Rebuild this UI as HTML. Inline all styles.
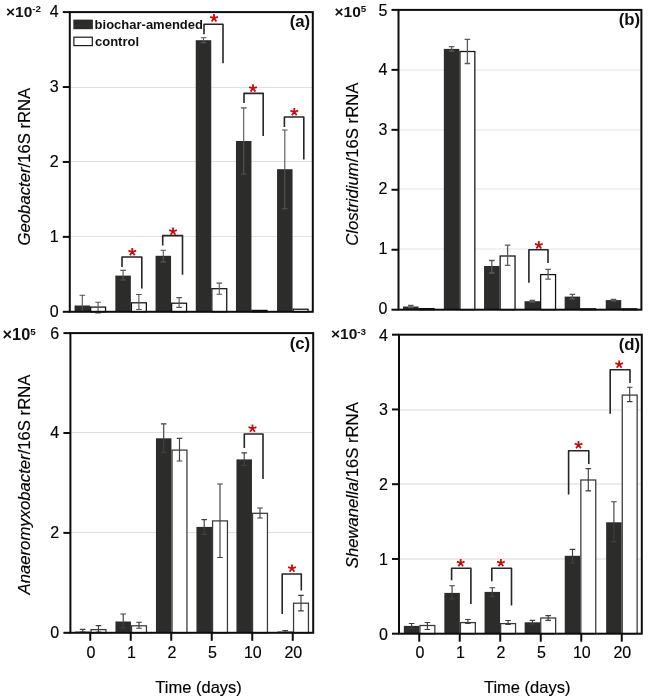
<!DOCTYPE html><html><head><meta charset="utf-8"><style>html,body{margin:0;padding:0;background:#fff;}svg{display:block;will-change:transform}text{font-family:'Liberation Sans',sans-serif}</style></head><body>
<svg width="657" height="699" viewBox="0 0 657 699">
<rect x="0" y="0" width="657" height="699" fill="#fff"/>
<line x1="70.8" y1="236.50" x2="311.8" y2="236.50" stroke="#e0e0e0" stroke-width="1"/>
<line x1="70.8" y1="161.50" x2="311.8" y2="161.50" stroke="#e0e0e0" stroke-width="1"/>
<line x1="70.8" y1="87.50" x2="311.8" y2="87.50" stroke="#e0e0e0" stroke-width="1"/>
<rect x="74.55" y="305.50" width="15.5" height="6.30" fill="#2c2c2a"/>
<rect x="90.65" y="307.10" width="14.90" height="4.70" fill="#fff" stroke="#111111" stroke-width="1.25"/>
<path d="M82.30,295.20V311.50M79.50,295.20H85.10M79.50,311.50H85.10" stroke="#555555" stroke-width="1.1" fill="none"/>
<path d="M98.10,302.30V313.00M95.30,302.30H100.90M95.30,313.00H100.90" stroke="#555555" stroke-width="1.1" fill="none"/>
<rect x="115.35" y="275.60" width="15.5" height="36.20" fill="#2c2c2a"/>
<rect x="131.45" y="302.80" width="14.90" height="9.00" fill="#fff" stroke="#111111" stroke-width="1.25"/>
<path d="M123.10,270.40V280.00M120.30,270.40H125.90M120.30,280.00H125.90" stroke="#555555" stroke-width="1.1" fill="none"/>
<path d="M138.90,294.50V309.50M136.10,294.50H141.70M136.10,309.50H141.70" stroke="#555555" stroke-width="1.1" fill="none"/>
<rect x="155.55" y="255.80" width="15.5" height="56.00" fill="#2c2c2a"/>
<rect x="171.65" y="303.20" width="14.90" height="8.60" fill="#fff" stroke="#111111" stroke-width="1.25"/>
<path d="M163.30,250.20V261.90M160.50,250.20H166.10M160.50,261.90H166.10" stroke="#555555" stroke-width="1.1" fill="none"/>
<path d="M179.10,297.60V307.40M176.30,297.60H181.90M176.30,307.40H181.90" stroke="#555555" stroke-width="1.1" fill="none"/>
<rect x="195.75" y="40.20" width="15.5" height="271.60" fill="#2c2c2a"/>
<rect x="211.85" y="288.70" width="14.90" height="23.10" fill="#fff" stroke="#111111" stroke-width="1.25"/>
<path d="M203.50,37.80V42.60M200.70,37.80H206.30M200.70,42.60H206.30" stroke="#555555" stroke-width="1.1" fill="none"/>
<path d="M219.30,283.10V294.20M216.50,283.10H222.10M216.50,294.20H222.10" stroke="#555555" stroke-width="1.1" fill="none"/>
<rect x="235.95" y="141.00" width="15.5" height="170.80" fill="#2c2c2a"/>
<rect x="252.05" y="310.40" width="14.90" height="1.40" fill="#fff" stroke="#111111" stroke-width="1.25"/>
<path d="M243.70,107.90V174.00M240.90,107.90H246.50M240.90,174.00H246.50" stroke="#555555" stroke-width="1.1" fill="none"/>
<rect x="277.05" y="169.20" width="15.5" height="142.60" fill="#2c2c2a"/>
<rect x="293.15" y="309.20" width="14.90" height="2.60" fill="#fff" stroke="#111111" stroke-width="1.25"/>
<path d="M284.80,130.00V208.70M282.00,130.00H287.60M282.00,208.70H287.60" stroke="#555555" stroke-width="1.1" fill="none"/>
<path d="M122.0,267.0V257.0H141.8V288.5" stroke="#262626" stroke-width="1.6" fill="none" stroke-linejoin="round"/>
<path d="M132.30,252.00L132.30,247.90M132.30,252.00L136.20,250.73M132.30,252.00L134.71,255.32M132.30,252.00L129.89,255.32M132.30,252.00L128.40,250.73" stroke="#cc0a0a" stroke-width="1.8" stroke-linecap="butt" fill="none"/>
<path d="M162.7,245.5V235.6H182.5V274.7" stroke="#262626" stroke-width="1.6" fill="none" stroke-linejoin="round"/>
<path d="M173.00,231.50L173.00,227.40M173.00,231.50L176.90,230.23M173.00,231.50L175.41,234.82M173.00,231.50L170.59,234.82M173.00,231.50L169.10,230.23" stroke="#cc0a0a" stroke-width="1.8" stroke-linecap="butt" fill="none"/>
<path d="M204.0,34.3V24.2H223.0V63.3" stroke="#262626" stroke-width="1.6" fill="none" stroke-linejoin="round"/>
<path d="M214.00,18.20L214.00,14.10M214.00,18.20L217.90,16.93M214.00,18.20L216.41,21.52M214.00,18.20L211.59,21.52M214.00,18.20L210.10,16.93" stroke="#cc0a0a" stroke-width="1.8" stroke-linecap="butt" fill="none"/>
<path d="M244.0,103.0V93.4H263.2V136.0" stroke="#262626" stroke-width="1.6" fill="none" stroke-linejoin="round"/>
<path d="M253.00,88.30L253.00,84.20M253.00,88.30L256.90,87.03M253.00,88.30L255.41,91.62M253.00,88.30L250.59,91.62M253.00,88.30L249.10,87.03" stroke="#cc0a0a" stroke-width="1.8" stroke-linecap="butt" fill="none"/>
<path d="M284.4,127.0V117.0H303.8V159.4" stroke="#262626" stroke-width="1.6" fill="none" stroke-linejoin="round"/>
<path d="M294.30,112.00L294.30,107.90M294.30,112.00L298.20,110.73M294.30,112.00L296.71,115.32M294.30,112.00L291.89,115.32M294.30,112.00L290.40,110.73" stroke="#cc0a0a" stroke-width="1.8" stroke-linecap="butt" fill="none"/>
<rect x="69.80" y="12.10" width="243.00" height="299.70" fill="none" stroke="#0d0d0d" stroke-width="2"/>
<line x1="62.8" y1="311.80" x2="69.8" y2="311.80" stroke="#0d0d0d" stroke-width="2"/>
<text x="58.60" y="316.50" font-size="16" text-anchor="end" fill="#000" stroke="#000" stroke-width="0.15">0</text>
<line x1="62.8" y1="236.88" x2="69.8" y2="236.88" stroke="#0d0d0d" stroke-width="2"/>
<text x="58.60" y="241.57" font-size="16" text-anchor="end" fill="#000" stroke="#000" stroke-width="0.15">1</text>
<line x1="62.8" y1="161.95" x2="69.8" y2="161.95" stroke="#0d0d0d" stroke-width="2"/>
<text x="58.60" y="166.65" font-size="16" text-anchor="end" fill="#000" stroke="#000" stroke-width="0.15">2</text>
<line x1="62.8" y1="87.03" x2="69.8" y2="87.03" stroke="#0d0d0d" stroke-width="2"/>
<text x="58.60" y="91.73" font-size="16" text-anchor="end" fill="#000" stroke="#000" stroke-width="0.15">3</text>
<line x1="62.8" y1="12.10" x2="69.8" y2="12.10" stroke="#0d0d0d" stroke-width="2"/>
<text x="58.60" y="16.80" font-size="16" text-anchor="end" fill="#000" stroke="#000" stroke-width="0.15">4</text>
<text transform="translate(29.5,166.6) rotate(-90)" font-size="16.7" text-anchor="middle" fill="#000" stroke="#000" stroke-width="0.15"><tspan font-style="italic">Geobacter</tspan>/16S rRNA</text>
<text x="6.0" y="17.0" font-size="15.5" font-weight="bold" fill="#111">×10<tspan font-size="9.8" dy="-4.6">-2</tspan></text>
<text x="310.2" y="26.8" font-size="16.8" font-weight="bold" text-anchor="end" fill="#111">(a)</text>
<line x1="399.5" y1="249.00" x2="640.4" y2="249.00" stroke="#f2f2f2" stroke-width="2"/>
<line x1="399.5" y1="189.00" x2="640.4" y2="189.00" stroke="#f2f2f2" stroke-width="2"/>
<line x1="399.5" y1="130.00" x2="640.4" y2="130.00" stroke="#f2f2f2" stroke-width="2"/>
<line x1="399.5" y1="70.00" x2="640.4" y2="70.00" stroke="#f2f2f2" stroke-width="2"/>
<rect x="403.05" y="306.50" width="15.5" height="3.20" fill="#2c2c2a"/>
<rect x="419.15" y="308.60" width="14.90" height="1.10" fill="#fff" stroke="#111111" stroke-width="1.25"/>
<path d="M410.80,305.50V307.50M408.00,305.50H413.60M408.00,307.50H413.60" stroke="#5a5a5a" stroke-width="1.3" fill="none"/>
<rect x="443.85" y="48.90" width="15.5" height="260.80" fill="#2c2c2a"/>
<rect x="459.95" y="51.50" width="14.90" height="258.20" fill="#fff" stroke="#111111" stroke-width="1.25"/>
<path d="M451.60,46.60V51.20M448.80,46.60H454.40M448.80,51.20H454.40" stroke="#5a5a5a" stroke-width="1.3" fill="none"/>
<path d="M467.40,39.40V63.50M464.60,39.40H470.20M464.60,63.50H470.20" stroke="#5a5a5a" stroke-width="1.3" fill="none"/>
<rect x="484.05" y="266.00" width="15.5" height="43.70" fill="#2c2c2a"/>
<rect x="500.15" y="256.00" width="14.90" height="53.70" fill="#fff" stroke="#111111" stroke-width="1.25"/>
<path d="M491.80,260.50V273.00M489.00,260.50H494.60M489.00,273.00H494.60" stroke="#5a5a5a" stroke-width="1.3" fill="none"/>
<path d="M507.60,245.20V265.30M504.80,245.20H510.40M504.80,265.30H510.40" stroke="#5a5a5a" stroke-width="1.3" fill="none"/>
<rect x="524.55" y="301.20" width="15.5" height="8.50" fill="#2c2c2a"/>
<rect x="540.65" y="274.60" width="14.90" height="35.10" fill="#fff" stroke="#111111" stroke-width="1.25"/>
<path d="M532.30,300.50V302.00M529.50,300.50H535.10M529.50,302.00H535.10" stroke="#5a5a5a" stroke-width="1.3" fill="none"/>
<path d="M548.10,269.30V279.20M545.30,269.30H550.90M545.30,279.20H550.90" stroke="#5a5a5a" stroke-width="1.3" fill="none"/>
<rect x="564.65" y="296.60" width="15.5" height="13.10" fill="#2c2c2a"/>
<rect x="580.75" y="308.80" width="14.90" height="0.90" fill="#fff" stroke="#111111" stroke-width="1.25"/>
<path d="M572.40,294.40V298.80M569.60,294.40H575.20M569.60,298.80H575.20" stroke="#5a5a5a" stroke-width="1.3" fill="none"/>
<rect x="605.75" y="300.10" width="15.5" height="9.60" fill="#2c2c2a"/>
<rect x="621.85" y="308.80" width="14.90" height="0.90" fill="#fff" stroke="#111111" stroke-width="1.25"/>
<path d="M613.50,299.30V300.90M610.70,299.30H616.30M610.70,300.90H616.30" stroke="#5a5a5a" stroke-width="1.3" fill="none"/>
<path d="M528.9,282.7V249.8H548.0V263.1" stroke="#262626" stroke-width="1.6" fill="none" stroke-linejoin="round"/>
<path d="M538.80,245.10L538.80,241.00M538.80,245.10L542.70,243.83M538.80,245.10L541.21,248.42M538.80,245.10L536.39,248.42M538.80,245.10L534.90,243.83" stroke="#cc0a0a" stroke-width="1.8" stroke-linecap="butt" fill="none"/>
<rect x="398.50" y="9.90" width="242.90" height="299.80" fill="none" stroke="#0d0d0d" stroke-width="2"/>
<line x1="391.5" y1="309.70" x2="398.5" y2="309.70" stroke="#0d0d0d" stroke-width="2"/>
<text x="387.30" y="314.40" font-size="16" text-anchor="end" fill="#000" stroke="#000" stroke-width="0.15">0</text>
<line x1="391.5" y1="249.74" x2="398.5" y2="249.74" stroke="#0d0d0d" stroke-width="2"/>
<text x="387.30" y="254.44" font-size="16" text-anchor="end" fill="#000" stroke="#000" stroke-width="0.15">1</text>
<line x1="391.5" y1="189.78" x2="398.5" y2="189.78" stroke="#0d0d0d" stroke-width="2"/>
<text x="387.30" y="194.48" font-size="16" text-anchor="end" fill="#000" stroke="#000" stroke-width="0.15">2</text>
<line x1="391.5" y1="129.82" x2="398.5" y2="129.82" stroke="#0d0d0d" stroke-width="2"/>
<text x="387.30" y="134.52" font-size="16" text-anchor="end" fill="#000" stroke="#000" stroke-width="0.15">3</text>
<line x1="391.5" y1="69.86" x2="398.5" y2="69.86" stroke="#0d0d0d" stroke-width="2"/>
<text x="387.30" y="74.56" font-size="16" text-anchor="end" fill="#000" stroke="#000" stroke-width="0.15">4</text>
<line x1="391.5" y1="9.90" x2="398.5" y2="9.90" stroke="#0d0d0d" stroke-width="2"/>
<text x="387.30" y="15.50" font-size="16" text-anchor="end" fill="#000" stroke="#000" stroke-width="0.15">5</text>
<text transform="translate(357.7,164.2) rotate(-90)" font-size="16.7" text-anchor="middle" fill="#000" stroke="#000" stroke-width="0.15"><tspan font-style="italic">Clostridium</tspan>/16S rRNA</text>
<text x="334.5" y="17.0" font-size="15.5" font-weight="bold" fill="#111">×10<tspan font-size="9.8" dy="-4.6">5</tspan></text>
<text x="640.2" y="24.6" font-size="16.8" font-weight="bold" text-anchor="end" fill="#111">(b)</text>
<line x1="71.4" y1="532.50" x2="312.2" y2="532.50" stroke="#dedede" stroke-width="1"/>
<line x1="71.4" y1="432.50" x2="312.2" y2="432.50" stroke="#dedede" stroke-width="1"/>
<rect x="74.95" y="631.60" width="15.5" height="1.20" fill="#2c2c2a"/>
<rect x="91.05" y="629.60" width="14.90" height="3.20" fill="#fff" stroke="#383838" stroke-width="1.25"/>
<path d="M82.70,629.40V632.00M79.90,629.40H85.50M79.90,632.00H85.50" stroke="#404040" stroke-width="1.15" fill="none"/>
<path d="M98.50,625.60V632.00M95.70,625.60H101.30M95.70,632.00H101.30" stroke="#404040" stroke-width="1.15" fill="none"/>
<rect x="115.45" y="621.50" width="15.5" height="11.30" fill="#2c2c2a"/>
<rect x="131.55" y="625.80" width="14.90" height="7.00" fill="#fff" stroke="#383838" stroke-width="1.25"/>
<path d="M123.20,614.00V628.00M120.40,614.00H126.00M120.40,628.00H126.00" stroke="#404040" stroke-width="1.15" fill="none"/>
<path d="M139.00,622.20V628.20M136.20,622.20H141.80M136.20,628.20H141.80" stroke="#404040" stroke-width="1.15" fill="none"/>
<rect x="155.95" y="438.30" width="15.5" height="194.50" fill="#2c2c2a"/>
<rect x="172.05" y="450.10" width="14.90" height="182.70" fill="#fff" stroke="#383838" stroke-width="1.25"/>
<path d="M163.70,423.80V452.40M160.90,423.80H166.50M160.90,452.40H166.50" stroke="#404040" stroke-width="1.15" fill="none"/>
<path d="M179.50,438.30V461.00M176.70,438.30H182.30M176.70,461.00H182.30" stroke="#404040" stroke-width="1.15" fill="none"/>
<rect x="196.45" y="526.90" width="15.5" height="105.90" fill="#2c2c2a"/>
<rect x="212.55" y="520.90" width="14.90" height="111.90" fill="#fff" stroke="#383838" stroke-width="1.25"/>
<path d="M204.20,519.60V534.40M201.40,519.60H207.00M201.40,534.40H207.00" stroke="#404040" stroke-width="1.15" fill="none"/>
<path d="M220.00,484.00V557.50M217.20,484.00H222.80M217.20,557.50H222.80" stroke="#404040" stroke-width="1.15" fill="none"/>
<rect x="236.45" y="459.40" width="15.5" height="173.40" fill="#2c2c2a"/>
<rect x="252.55" y="513.30" width="14.90" height="119.50" fill="#fff" stroke="#383838" stroke-width="1.25"/>
<path d="M244.20,452.80V465.30M241.40,452.80H247.00M241.40,465.30H247.00" stroke="#404040" stroke-width="1.15" fill="none"/>
<path d="M260.00,508.00V518.00M257.20,508.00H262.80M257.20,518.00H262.80" stroke="#404040" stroke-width="1.15" fill="none"/>
<rect x="277.45" y="631.50" width="15.5" height="1.30" fill="#2c2c2a"/>
<rect x="293.55" y="603.20" width="14.90" height="29.60" fill="#fff" stroke="#383838" stroke-width="1.25"/>
<path d="M285.20,630.50V632.50M282.40,630.50H288.00M282.40,632.50H288.00" stroke="#404040" stroke-width="1.15" fill="none"/>
<path d="M301.00,595.30V610.80M298.20,595.30H303.80M298.20,610.80H303.80" stroke="#404040" stroke-width="1.15" fill="none"/>
<path d="M244.3,447.9V434.0H263.0V479.1" stroke="#262626" stroke-width="1.6" fill="none" stroke-linejoin="round"/>
<path d="M252.50,428.50L252.50,424.40M252.50,428.50L256.40,427.23M252.50,428.50L254.91,431.82M252.50,428.50L250.09,431.82M252.50,428.50L248.60,427.23" stroke="#cc0a0a" stroke-width="1.8" stroke-linecap="butt" fill="none"/>
<path d="M282.2,614.0V574.0H301.3V590.4" stroke="#262626" stroke-width="1.6" fill="none" stroke-linejoin="round"/>
<path d="M292.00,568.50L292.00,564.40M292.00,568.50L295.90,567.23M292.00,568.50L294.41,571.82M292.00,568.50L289.59,571.82M292.00,568.50L288.10,567.23" stroke="#cc0a0a" stroke-width="1.8" stroke-linecap="butt" fill="none"/>
<rect x="70.40" y="333.10" width="242.80" height="299.70" fill="none" stroke="#0d0d0d" stroke-width="2"/>
<line x1="63.400000000000006" y1="632.80" x2="70.4" y2="632.80" stroke="#0d0d0d" stroke-width="2"/>
<text x="59.20" y="637.50" font-size="16" text-anchor="end" fill="#000" stroke="#000" stroke-width="0.15">0</text>
<line x1="63.400000000000006" y1="532.90" x2="70.4" y2="532.90" stroke="#0d0d0d" stroke-width="2"/>
<text x="59.20" y="537.60" font-size="16" text-anchor="end" fill="#000" stroke="#000" stroke-width="0.15">2</text>
<line x1="63.400000000000006" y1="433.00" x2="70.4" y2="433.00" stroke="#0d0d0d" stroke-width="2"/>
<text x="59.20" y="437.70" font-size="16" text-anchor="end" fill="#000" stroke="#000" stroke-width="0.15">4</text>
<line x1="63.400000000000006" y1="333.10" x2="70.4" y2="333.10" stroke="#0d0d0d" stroke-width="2"/>
<text x="59.20" y="338.70" font-size="16" text-anchor="end" fill="#000" stroke="#000" stroke-width="0.15">6</text>
<line x1="90.25" y1="632.8" x2="90.25" y2="640.8" stroke="#0d0d0d" stroke-width="2"/>
<text x="90.85" y="657.5" font-size="16" text-anchor="middle" fill="#000" stroke="#000" stroke-width="0.15">0</text>
<line x1="130.75" y1="632.8" x2="130.75" y2="640.8" stroke="#0d0d0d" stroke-width="2"/>
<text x="131.35" y="657.5" font-size="16" text-anchor="middle" fill="#000" stroke="#000" stroke-width="0.15">1</text>
<line x1="171.25" y1="632.8" x2="171.25" y2="640.8" stroke="#0d0d0d" stroke-width="2"/>
<text x="171.85" y="657.5" font-size="16" text-anchor="middle" fill="#000" stroke="#000" stroke-width="0.15">2</text>
<line x1="211.75" y1="632.8" x2="211.75" y2="640.8" stroke="#0d0d0d" stroke-width="2"/>
<text x="212.35" y="657.5" font-size="16" text-anchor="middle" fill="#000" stroke="#000" stroke-width="0.15">5</text>
<line x1="252.25" y1="632.8" x2="252.25" y2="640.8" stroke="#0d0d0d" stroke-width="2"/>
<text x="252.85" y="657.5" font-size="16" text-anchor="middle" fill="#000" stroke="#000" stroke-width="0.15">10</text>
<line x1="292.75" y1="632.8" x2="292.75" y2="640.8" stroke="#0d0d0d" stroke-width="2"/>
<text x="293.35" y="657.5" font-size="16" text-anchor="middle" fill="#000" stroke="#000" stroke-width="0.15">20</text>
<text x="198.60" y="692.5" font-size="16.5" text-anchor="middle" fill="#000" stroke="#000" stroke-width="0.15">Time (days)</text>
<text transform="translate(29.8,484.5) rotate(-90)" font-size="16.7" text-anchor="middle" fill="#000" stroke="#000" stroke-width="0.15"><tspan font-style="italic">Anaeromyxobacter</tspan>/16S rRNA</text>
<text x="2.6" y="339.6" font-size="16.3" font-weight="bold" fill="#111">×10<tspan font-size="9.8" dy="-4.6">5</tspan></text>
<text x="310.2" y="349.3" font-size="16.8" font-weight="bold" text-anchor="end" fill="#111">(c)</text>
<line x1="400.0" y1="559.00" x2="640.8" y2="559.00" stroke="#ececec" stroke-width="2"/>
<line x1="400.0" y1="484.00" x2="640.8" y2="484.00" stroke="#ececec" stroke-width="2"/>
<line x1="400.0" y1="410.00" x2="640.8" y2="410.00" stroke="#ececec" stroke-width="2"/>
<rect x="403.85" y="625.90" width="15.5" height="7.80" fill="#2c2c2a"/>
<rect x="419.95" y="625.50" width="14.90" height="8.20" fill="#fff" stroke="#383838" stroke-width="1.25"/>
<path d="M411.60,623.50V628.50M408.80,623.50H414.40M408.80,628.50H414.40" stroke="#404040" stroke-width="1.15" fill="none"/>
<path d="M427.40,622.50V629.50M424.60,622.50H430.20M424.60,629.50H430.20" stroke="#404040" stroke-width="1.15" fill="none"/>
<rect x="444.35" y="592.90" width="15.5" height="40.80" fill="#2c2c2a"/>
<rect x="460.45" y="622.60" width="14.90" height="11.10" fill="#fff" stroke="#383838" stroke-width="1.25"/>
<path d="M452.10,585.70V599.00M449.30,585.70H454.90M449.30,599.00H454.90" stroke="#404040" stroke-width="1.15" fill="none"/>
<path d="M467.90,619.50V623.50M465.10,619.50H470.70M465.10,623.50H470.70" stroke="#404040" stroke-width="1.15" fill="none"/>
<rect x="484.55" y="591.90" width="15.5" height="41.80" fill="#2c2c2a"/>
<rect x="500.65" y="623.60" width="14.90" height="10.10" fill="#fff" stroke="#383838" stroke-width="1.25"/>
<path d="M492.30,587.70V596.40M489.50,587.70H495.10M489.50,596.40H495.10" stroke="#404040" stroke-width="1.15" fill="none"/>
<path d="M508.10,620.50V624.50M505.30,620.50H510.90M505.30,624.50H510.90" stroke="#404040" stroke-width="1.15" fill="none"/>
<rect x="524.65" y="622.30" width="15.5" height="11.40" fill="#2c2c2a"/>
<rect x="540.75" y="618.00" width="14.90" height="15.70" fill="#fff" stroke="#383838" stroke-width="1.25"/>
<path d="M532.40,620.40V624.00M529.60,620.40H535.20M529.60,624.00H535.20" stroke="#404040" stroke-width="1.15" fill="none"/>
<path d="M548.20,615.60V620.40M545.40,615.60H551.00M545.40,620.40H551.00" stroke="#404040" stroke-width="1.15" fill="none"/>
<rect x="564.75" y="555.80" width="15.5" height="77.90" fill="#2c2c2a"/>
<rect x="580.85" y="480.00" width="14.90" height="153.70" fill="#fff" stroke="#383838" stroke-width="1.25"/>
<path d="M572.50,549.40V563.00M569.70,549.40H575.30M569.70,563.00H575.30" stroke="#404040" stroke-width="1.15" fill="none"/>
<path d="M588.30,468.60V490.80M585.50,468.60H591.10M585.50,490.80H591.10" stroke="#404040" stroke-width="1.15" fill="none"/>
<rect x="606.15" y="522.30" width="15.5" height="111.40" fill="#2c2c2a"/>
<rect x="622.25" y="395.10" width="14.90" height="238.60" fill="#fff" stroke="#383838" stroke-width="1.25"/>
<path d="M613.90,501.70V541.60M611.10,501.70H616.70M611.10,541.60H616.70" stroke="#404040" stroke-width="1.15" fill="none"/>
<path d="M629.70,387.20V401.60M626.90,387.20H632.50M626.90,401.60H632.50" stroke="#404040" stroke-width="1.15" fill="none"/>
<path d="M451.6,580.3V568.2H470.9V604.0" stroke="#262626" stroke-width="1.6" fill="none" stroke-linejoin="round"/>
<path d="M460.70,563.00L460.70,558.90M460.70,563.00L464.60,561.73M460.70,563.00L463.11,566.32M460.70,563.00L458.29,566.32M460.70,563.00L456.80,561.73" stroke="#cc0a0a" stroke-width="1.8" stroke-linecap="butt" fill="none"/>
<path d="M491.8,581.3V568.2H511.5V605.4" stroke="#262626" stroke-width="1.6" fill="none" stroke-linejoin="round"/>
<path d="M500.90,563.00L500.90,558.90M500.90,563.00L504.80,561.73M500.90,563.00L503.31,566.32M500.90,563.00L498.49,566.32M500.90,563.00L497.00,561.73" stroke="#cc0a0a" stroke-width="1.8" stroke-linecap="butt" fill="none"/>
<path d="M568.6,494.4V450.7H588.8V464.0" stroke="#262626" stroke-width="1.6" fill="none" stroke-linejoin="round"/>
<path d="M578.50,445.00L578.50,440.90M578.50,445.00L582.40,443.73M578.50,445.00L580.91,448.32M578.50,445.00L576.09,448.32M578.50,445.00L574.60,443.73" stroke="#cc0a0a" stroke-width="1.8" stroke-linecap="butt" fill="none"/>
<path d="M610.2,413.8V369.7H630.0V383.0" stroke="#262626" stroke-width="1.6" fill="none" stroke-linejoin="round"/>
<path d="M619.20,364.50L619.20,360.40M619.20,364.50L623.10,363.23M619.20,364.50L621.61,367.82M619.20,364.50L616.79,367.82M619.20,364.50L615.30,363.23" stroke="#cc0a0a" stroke-width="1.8" stroke-linecap="butt" fill="none"/>
<rect x="399.00" y="334.70" width="242.80" height="299.00" fill="none" stroke="#0d0d0d" stroke-width="2"/>
<line x1="392.0" y1="633.70" x2="399.0" y2="633.70" stroke="#0d0d0d" stroke-width="2"/>
<text x="387.80" y="639.50" font-size="16" text-anchor="end" fill="#000" stroke="#000" stroke-width="0.15">0</text>
<line x1="392.0" y1="558.95" x2="399.0" y2="558.95" stroke="#0d0d0d" stroke-width="2"/>
<text x="387.80" y="564.75" font-size="16" text-anchor="end" fill="#000" stroke="#000" stroke-width="0.15">1</text>
<line x1="392.0" y1="484.20" x2="399.0" y2="484.20" stroke="#0d0d0d" stroke-width="2"/>
<text x="387.80" y="490.00" font-size="16" text-anchor="end" fill="#000" stroke="#000" stroke-width="0.15">2</text>
<line x1="392.0" y1="409.45" x2="399.0" y2="409.45" stroke="#0d0d0d" stroke-width="2"/>
<text x="387.80" y="415.25" font-size="16" text-anchor="end" fill="#000" stroke="#000" stroke-width="0.15">3</text>
<line x1="392.0" y1="334.70" x2="399.0" y2="334.70" stroke="#0d0d0d" stroke-width="2"/>
<text x="387.80" y="340.50" font-size="16" text-anchor="end" fill="#000" stroke="#000" stroke-width="0.15">4</text>
<line x1="419.25" y1="633.7" x2="419.25" y2="641.7" stroke="#0d0d0d" stroke-width="2"/>
<text x="419.85" y="657.5" font-size="16" text-anchor="middle" fill="#000" stroke="#000" stroke-width="0.15">0</text>
<line x1="459.75" y1="633.7" x2="459.75" y2="641.7" stroke="#0d0d0d" stroke-width="2"/>
<text x="460.35" y="657.5" font-size="16" text-anchor="middle" fill="#000" stroke="#000" stroke-width="0.15">1</text>
<line x1="500.25" y1="633.7" x2="500.25" y2="641.7" stroke="#0d0d0d" stroke-width="2"/>
<text x="500.85" y="657.5" font-size="16" text-anchor="middle" fill="#000" stroke="#000" stroke-width="0.15">2</text>
<line x1="540.75" y1="633.7" x2="540.75" y2="641.7" stroke="#0d0d0d" stroke-width="2"/>
<text x="541.35" y="657.5" font-size="16" text-anchor="middle" fill="#000" stroke="#000" stroke-width="0.15">5</text>
<line x1="581.25" y1="633.7" x2="581.25" y2="641.7" stroke="#0d0d0d" stroke-width="2"/>
<text x="581.85" y="657.5" font-size="16" text-anchor="middle" fill="#000" stroke="#000" stroke-width="0.15">10</text>
<line x1="621.75" y1="633.7" x2="621.75" y2="641.7" stroke="#0d0d0d" stroke-width="2"/>
<text x="622.35" y="657.5" font-size="16" text-anchor="middle" fill="#000" stroke="#000" stroke-width="0.15">20</text>
<text x="527.20" y="692.5" font-size="16.5" text-anchor="middle" fill="#000" stroke="#000" stroke-width="0.15">Time (days)</text>
<text transform="translate(358.2,485.2) rotate(-90)" font-size="16.7" text-anchor="middle" fill="#000" stroke="#000" stroke-width="0.15"><tspan font-style="italic">Shewanella</tspan>/16S rRNA</text>
<text x="331.0" y="339.3" font-size="15.5" font-weight="bold" fill="#111">×10<tspan font-size="9.8" dy="-4.6">-3</tspan></text>
<text x="640.2" y="349.8" font-size="16.8" font-weight="bold" text-anchor="end" fill="#111">(d)</text>
<rect x="73.3" y="19.6" width="19.6" height="9.6" fill="#2c2c2a"/>
<rect x="73.9" y="37.2" width="18.4" height="8.4" fill="#fff" stroke="#1a1a1a" stroke-width="1.2"/>
<text x="94.6" y="28.9" font-size="13" font-weight="bold" fill="#111">biochar-amended</text>
<text x="95.0" y="45.6" font-size="13" font-weight="bold" fill="#111">control</text>
</svg></body></html>
